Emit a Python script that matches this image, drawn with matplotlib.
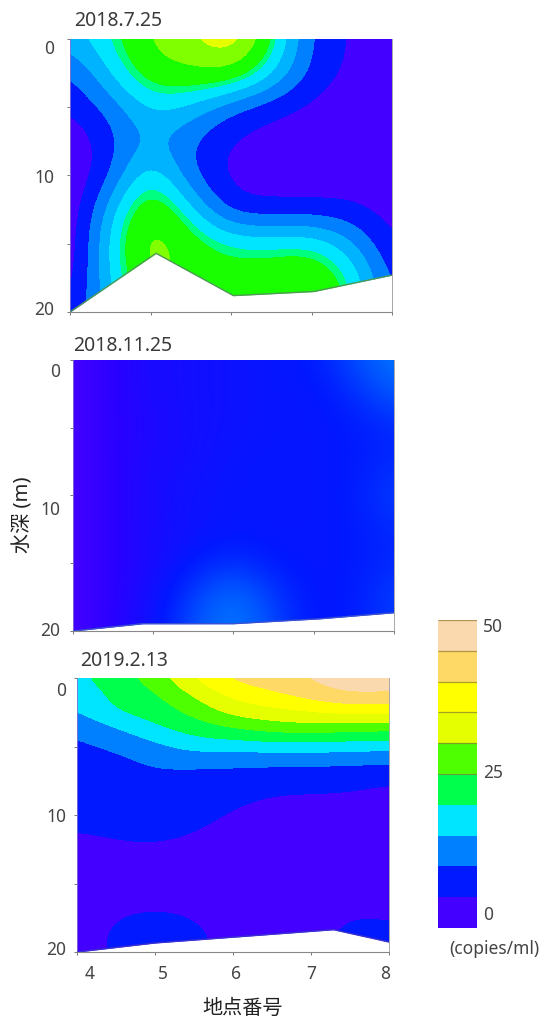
import numpy as np
import matplotlib
matplotlib.use("Agg")
import matplotlib.pyplot as plt
from matplotlib.colors import ListedColormap, BoundaryNorm, LinearSegmentedColormap, Normalize

plt.rcParams['font.family'] = ['Noto Sans', 'Noto Sans CJK JP', 'DejaVu Sans']

W, H = 545, 1021
TEXT = '#444444'

stations = [4, 5, 6, 7, 8]

# copies/ml, rows are depth steps of 2.5 m
jul = [
    [14, 20, 29, 33, 42, 22, 7, 3.5, 1],
    [7, 16, 26, 27, 27, 17, 6.5, 3, 1],
    [4.5, 9, 17, 15, 8, 5, 3, 1, 1],
    [0, 6.5, 13, 8, 3.5, 2, 1, 1, 1],
    [0, 7, 21, 8, 2.5, 1, 1, 1, 1],
    [0, 14, 29, 17, 5, 5, 5, 5, 2],
    [0, 17, 33, 25, 20, 19, 20, 13, 3.5],
    [1, 16, 30, 26, 25, 26.5, 28.5, 20, 6],
    [4, 14, 28, 26, 25, 27.5, 31, 20, 7],
]
nov = [
    [1.5, 3.5, 5, 5.5, 6, 6.5, 7, 10, 13.5],
    [1.5, 3.5, 5, 5.5, 6, 6.5, 6.5, 8, 11],
    [1.5, 3.5, 4.5, 5.5, 6, 6.5, 6.5, 7, 8],
    [1.5, 3.5, 5, 5.5, 6.5, 6.5, 6.5, 7, 8],
    [1.5, 3.5, 5, 6, 6.5, 6.5, 6.5, 7, 9.5],
    [1.5, 3.5, 5, 6, 6.5, 6.5, 6.5, 7, 8],
    [1.5, 3.5, 5, 7, 8.5, 7, 6.5, 7, 8],
    [1.5, 3.5, 5.5, 9.5, 13, 9, 6.5, 7, 9.5],
    [1.5, 3.5, 6, 10.5, 14, 10, 6.5, 7, 9],
]
# rows are depth steps of 1.25 m here, the top layer changes quickly
feb = [
    [18.5, 23, 27, 36, 41.5, 43, 45.5, 49, 49],
    [16.5, 21.5, 24, 30.5, 36.5, 39, 42, 45, 44],
    [14.5, 20.5, 22, 26.5, 32, 33.5, 35, 36.5, 36],
    [10.5, 14.5, 19, 22, 24.5, 27, 27.5, 26.5, 26],
    [9, 10.5, 13.5, 17.5, 17, 17.5, 17.5, 17, 16.5],
    [8.5, 8.5, 10.5, 10.5, 10.5, 10.5, 10.5, 10.5, 10],
    [8, 8, 9, 8.5, 8, 7, 6.5, 6, 5],
    [7.5, 7.5, 8, 7.5, 6, 4.5, 4.5, 4.5, 4],
    [7, 7, 7.5, 6.5, 4.5, 3.5, 3.5, 3.5, 3],
    [5, 5.8, 6, 5, 3.5, 3, 3, 3, 3],
    [3, 4.2, 4.5, 4, 3, 2.5, 2.5, 2.5, 2.5],
    [3, 3, 3, 3, 2.5, 2.5, 2.5, 2.5, 2.5],
    [3, 3, 3.5, 3, 2.5, 2.5, 2.5, 2.5, 2.5],
    [2.5, 3.5, 4, 3.5, 3, 2.5, 2.5, 3, 3],
    [2.5, 5, 6, 5, 3, 2.5, 2.5, 5.5, 5],
    [2.5, 6, 7, 6, 3.5, 2.5, 4, 6, 5.5],
    [2.5, 6, 7, 6, 3.5, 2.5, 4, 6, 5.5],
]

bed_jul_x = [4, 5.07, 6.03, 7.03, 8]
bed_jul_z = [20, 15.7, 18.8, 18.5, 17.3]
bed_nov_x = [4, 4.87, 6, 7.07, 8]
bed_nov_z = [20, 19.46, 19.46, 19.1, 18.65]
bed_feb_x = [4, 5, 7.29, 8]
bed_feb_z = [20, 19.34, 18.37, 19.27]

legend_levels = [0, 5, 10, 15, 20, 25, 30, 35, 40, 45, 50]
legend_colors = ['#4400ff', '#0019ff', '#0080ff', '#00e5ff', '#00ff4d',
                 '#4dff00', '#e6ff00', '#ffff00', '#ffd966', '#fad9ae']
jul_levels = [0, 4, 8, 12, 16, 20, 22, 28, 34, 45]
jul_colors = ['#4400ff', '#0019ff', '#0080ff', '#00b3ff', '#00e5ff',
              '#00ff80', '#19ff00', '#80ff00', '#e6ff00']


def px_axes(x0, y0, x1, y1):
    return fig.add_axes([x0 / W, 1 - y1 / H, (x1 - x0) / W, (y1 - y0) / H])


def px_text(x, y, s, **kw):
    kw.setdefault('color', TEXT)
    kw.setdefault('va', 'center')
    fig.text(x / W, 1 - y / H, s, **kw)


def panel(box, values, cmap, norm, bed_x, bed_z, title, title_x, title_y, lab_x, lab_y, line):
    ax = px_axes(*box)
    vals = np.array(values, dtype=float)
    dz = 20 / (vals.shape[0] - 1)
    ax.imshow(vals, cmap=cmap, norm=norm, interpolation='bicubic', interpolation_stage='data',
              extent=[3.75, 8.25, 20 + dz / 2, -dz / 2], aspect='auto')
    ax.fill_between(bed_x, bed_z, 20.5, color='white', lw=0, zorder=2)
    ax.plot(bed_x, bed_z, color=line, lw=1, zorder=3)
    ax.set_xlim(4, 8)
    ax.set_ylim(20, 0)
    ax.set_xticks(stations)
    ax.set_yticks([0, 5, 10, 15, 20])
    ax.tick_params(length=2, width=0.7, color='#777777', labelbottom=False, labelleft=False, pad=1)
    ax.spines['top'].set_visible(False)
    ax.spines['left'].set_color('#8a70d0')
    ax.spines['left'].set_linewidth(0.6)
    ax.spines['right'].set_color('#999999')
    ax.spines['right'].set_linewidth(0.6)
    ax.spines['bottom'].set_color('#888888')
    ax.spines['bottom'].set_linewidth(0.8)
    px_text(title_x, title_y, title, fontsize=14, color='#3a3a3a')
    for lab, y in zip(['0', '10', '20'], lab_y):
        px_text(lab_x, y, lab, fontsize=12.5, ha='right')
    return ax


fig = plt.figure(figsize=(W / 100, H / 100), dpi=100)

legend_cmap = ListedColormap(legend_colors)
legend_norm = BoundaryNorm(legend_levels, legend_cmap.N, clip=True)
jul_cmap = ListedColormap(jul_colors)
jul_norm = BoundaryNorm(jul_levels, jul_cmap.N, clip=True)
nov_cmap = LinearSegmentedColormap.from_list('nov', ['#5a00ff', '#2a00ff', '#0019ff', '#0050ff', '#0080ff'])
nov_norm = Normalize(0, 14)

panel((70, 39, 392, 312), jul, jul_cmap, jul_norm, bed_jul_x, bed_jul_z,
      '2018.7.25', 74, 21, 54, [49, 178, 310], '#4f9a55')
panel((73, 360, 394, 631), nov, nov_cmap, nov_norm, bed_nov_x, bed_nov_z,
      '2018.11.25', 73, 346, 60, [372, 510, 631], '#3a50d0')
panel((77, 678, 389, 952), feb, legend_cmap, legend_norm, bed_feb_x, bed_feb_z,
      '2019.2.13', 80, 661, 66, [691, 817, 950], '#3a30d0')

for lab, x in zip(stations, [90, 163, 236, 311, 385]):
    px_text(x, 974, str(lab), fontsize=12.5, ha='center')
px_text(243, 1009, '地点番号', fontsize=14.5, ha='center', color='#222222')
px_text(23, 515, '水深 (m)', fontsize=14.5, ha='center', rotation=90, color='#222222')

cax = px_axes(438, 620, 477, 928)
cax.pcolormesh([0, 1], legend_levels, np.array(legend_levels[:-1]).reshape(-1, 1) + 2.5,
               cmap=legend_cmap, norm=legend_norm)
cax.hlines(legend_levels[5:], 0, 1, color='#8a7a30', lw=0.9, alpha=0.7)
cax.set_xlim(0, 1)
cax.set_ylim(0, 50)
cax.axis('off')

for lab, y in zip(['50', '25', '0'], [627, 773, 915]):
    px_text(483, y, lab, fontsize=12.5)
px_text(449, 949, '(copies/ml)', fontsize=12.5)

fig.savefig('out.png', dpi=100)
